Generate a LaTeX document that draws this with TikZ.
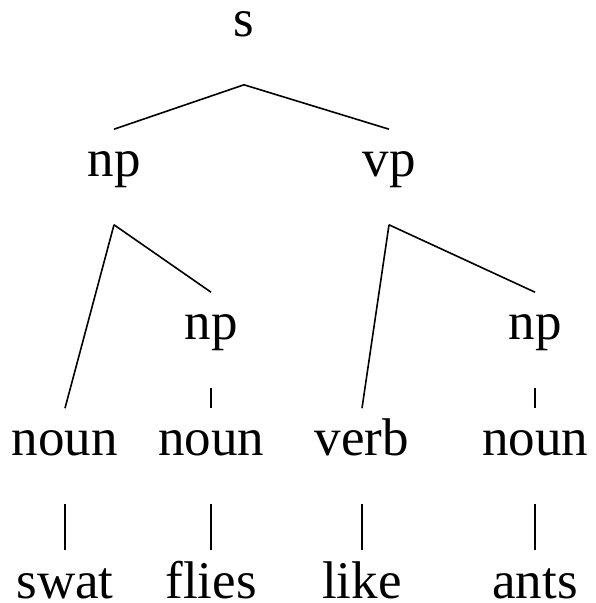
\documentclass[tikz,border=0pt]{standalone}
\usepackage{fontspec}
\setmainfont{Liberation Serif}

\begin{document}
\begin{tikzpicture}[x=1pt, y=1pt, line width=1.6pt,
    cat/.style={anchor=base, inner sep=0pt, text height=47pt, text depth=47pt, font=\fontsize{53}{60}\selectfont},
    root/.style={cat, text height=0.7em},
    word/.style={cat, text depth=0pt}]

    \useasboundingbox (0,0) rectangle (596,603);

    %racine
    \node[root] (s) at (244,566) {s};

    %syntagmes
    \node[cat] (np) at (114,426) {np};
    \node[cat] (vp) at (389,426) {vp};
    \node[cat] (npb) at (211,263) {np};
    \node[cat] (npc) at (535,263) {np};

    %categories
    \node[cat] (nouna) at (65,147) {noun};
    \node[cat] (nounb) at (211,147) {noun};
    \node[cat] (verb) at (362,147) {verb};
    \node[cat] (nounc) at (535,147) {noun};

    %mots
    \node[word] (swat) at (65,5) {swat};
    \node[word] (flies) at (211,5) {flies};
    \node[word] (like) at (362,5) {like};
    \node[word] (ants) at (535,5) {ants};

    %branches
    \draw (s.south) -- (np.north);
    \draw (s.south) -- (vp.north);
    \draw (np.south) -- (nouna.north);
    \draw (np.south) -- (npb.north);
    \draw (vp.south) -- (verb.north);
    \draw (vp.south) -- (npc.north);
    \draw (npb.south) -- (nounb.north);
    \draw (npc.south) -- (nounc.north);

    \draw (nouna.south) -- (swat.north);
    \draw (nounb.south) -- (flies.north);
    \draw (verb.south) -- (like.north);
    \draw (nounc.south) -- (ants.north);

\end{tikzpicture}
\end{document}
